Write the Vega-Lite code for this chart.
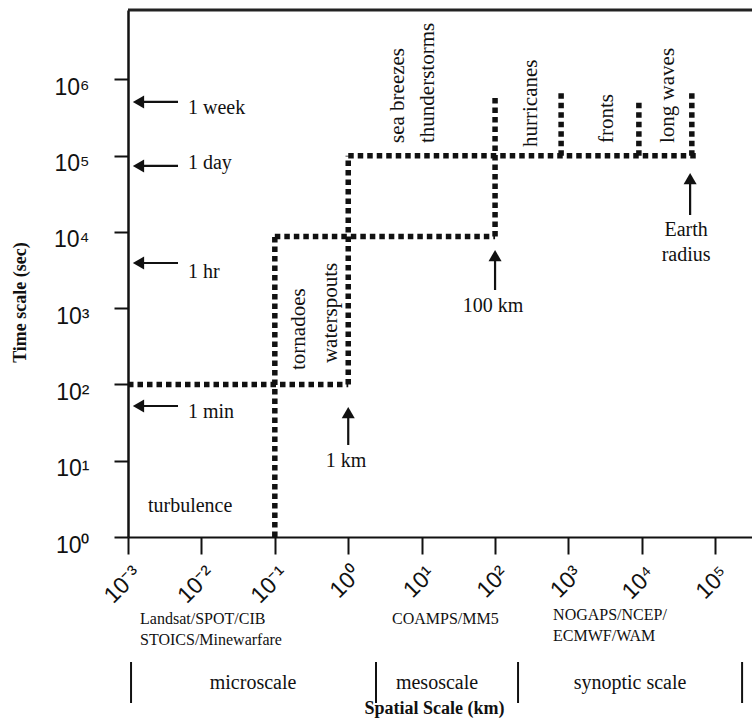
{
  "$schema": "https://vega.github.io/schema/vega-lite/v6.json",
  "width": 624,
  "height": 527,
  "autosize": {"type": "none"},
  "padding": {"left": 128, "top": 10, "right": 0, "bottom": 182},
  "background": "white",
  "config": {
    "view": {"stroke": null},
    "axis": {"grid": false, "domainColor": "#111", "tickColor": "#111", "labelColor": "#111", "titleColor": "#111"}
  },
  "datasets": {
    "segs": [
      {"x": 0.001, "x2": 1, "y": 100, "y2": 100},
      {"x": 0.1, "x2": 0.1, "y": 1, "y2": 8700},
      {"x": 0.1, "x2": 100, "y": 8700, "y2": 8700},
      {"x": 1, "x2": 1, "y": 100, "y2": 100000},
      {"x": 1, "x2": 56000, "y": 100000, "y2": 100000},
      {"x": 100, "x2": 100, "y": 8700, "y2": 600000},
      {"x": 794, "x2": 794, "y": 100000, "y2": 690000},
      {"x": 9100, "x2": 9100, "y": 100000, "y2": 550000},
      {"x": 47900, "x2": 47900, "y": 100000, "y2": 690000}
    ],
    "leftArrows": [
      {"x": 0.00139, "xl": 0.001457, "xl2": 0.0048, "y": 507000},
      {"x": 0.00139, "xl": 0.001457, "xl2": 0.0048, "y": 73400},
      {"x": 0.00139, "xl": 0.001457, "xl2": 0.0048, "y": 3920},
      {"x": 0.00139, "xl": 0.001457, "xl2": 0.0048, "y": 52.2}
    ],
    "upArrows": [
      {"x": 1, "y": 42.8, "yl": 36.4, "yl2": 16.1},
      {"x": 100, "y": 4900, "yl": 4295, "yl2": 1735},
      {"x": 45400, "y": 50100, "yl": 42700, "yl2": 16700}
    ],
    "leftText": [
      {"t": "1 week", "x": 0.00656, "y": 422700},
      {"t": "1 day", "x": 0.00656, "y": 80400},
      {"t": "1 hr", "x": 0.00656, "y": 2987},
      {"t": "1 min", "x": 0.00656, "y": 43.6},
      {"t": "turbulence", "x": 0.00187, "y": 2.55}
    ],
    "centerText": [
      {"t": "1 km", "x": 0.933, "y": 10.07},
      {"t": "100 km", "x": 94, "y": 1071},
      {"t": "Earth", "x": 40000, "y": 10620},
      {"t": "radius", "x": 40000, "y": 4990}
    ],
    "rotText": [
      {"t": "tornadoes", "x": 0.214, "y": 155},
      {"t": "waterspouts", "x": 0.583, "y": 191},
      {"t": "sea breezes", "x": 4.77, "y": 146900},
      {"t": "thunderstorms", "x": 12.2, "y": 146900},
      {"t": "hurricanes", "x": 309, "y": 130300},
      {"t": "fronts", "x": 3357, "y": 146900},
      {"t": "long waves", "x": 22750, "y": 146900}
    ],
    "modelText": [
      {"t": "Landsat/SPOT/CIB", "x": 0.00146, "y": 0.0841},
      {"t": "STOICS/Minewarfare", "x": 0.00146, "y": 0.0446},
      {"t": "COAMPS/MM5", "x": 3.95, "y": 0.0841},
      {"t": "NOGAPS/NCEP/", "x": 617, "y": 0.0948},
      {"t": "ECMWF/WAM", "x": 617, "y": 0.0503}
    ],
    "scaleText": [
      {"t": "microscale", "x": 0.0505, "y": 0.01217},
      {"t": "mesoscale", "x": 16.2, "y": 0.01217},
      {"t": "synoptic scale", "x": 6900, "y": 0.01217}
    ],
    "bars": [
      {"x": 0.0011, "y": 0.02295, "y2": 0.00665},
      {"x": 2.39, "y": 0.02295, "y2": 0.00665},
      {"x": 205.6, "y": 0.02295, "y2": 0.00665},
      {"x": 231700, "y": 0.02295, "y2": 0.00665}
    ],
    "top": [{"y": 8150000}]
  },
  "layer": [
    {
      "data": {"name": "segs"},
      "mark": {"type": "rule", "strokeWidth": 5.5, "strokeDash": [5.5, 4], "strokeCap": "butt", "color": "#111"},
      "encoding": {
        "x": {"field": "x", "type": "quantitative",
          "scale": {"type": "log", "domain": [0.001, 316228], "nice": false, "clamp": false},
          "axis": {
            "orient": "bottom",
            "values": [0.001, 0.01, 0.1, 1, 10, 100, 1000, 10000, 100000],
            "labelExpr": "'10' + ['⁻³','⁻²','⁻¹','⁰','¹','²','³','⁴','⁵'][round(log(datum.value)/LN10)+3]",
            "labelAngle": -45, "labelAlign": "right", "labelBaseline": "middle",
            "labelFont": "Liberation Sans", "labelFontSize": 23, "labelPadding": 16, "labelOffset": 9,
            "tickSize": 17, "tickWidth": 2, "domainWidth": 2, "labelFlush": false, "labelOverlap": false,
            "title": "Spatial Scale (km)", "titleFont": "Liberation Serif", "titleFontWeight": "bold", "titleFontSize": 18,
            "titleX": 306, "titleY": 171, "titleAlign": "center", "titleBaseline": "middle"
          }},
        "x2": {"field": "x2"},
        "y": {"field": "y", "type": "quantitative",
          "scale": {"type": "log", "domain": [1, 8150000], "nice": false, "clamp": false},
          "axis": {
            "orient": "left",
            "values": [1, 10, 100, 1000, 10000, 100000, 1000000],
            "labelExpr": "'10' + ['⁰','¹','²','³','⁴','⁵','⁶'][round(log(datum.value)/LN10)]",
            "labelFont": "Liberation Sans", "labelFontSize": 23, "labelPadding": 25, "labelOffset": 8,
            "tickSize": 14, "tickWidth": 2, "domainWidth": 2.5, "labelFlush": false, "labelOverlap": false,
            "title": "Time scale (sec)", "titleFont": "Liberation Serif", "titleFontWeight": "bold", "titleFontSize": 18,
            "titleAngle": 270, "titleX": -108, "titleY": 292, "titleAlign": "center", "titleBaseline": "middle"
          }},
        "y2": {"field": "y2"}
      }
    },
    {
      "data": {"name": "top"},
      "mark": {"type": "rule", "strokeWidth": 3, "color": "#222"},
      "encoding": {"y": {"field": "y", "type": "quantitative"}}
    },
    {
      "data": {"name": "leftArrows"},
      "mark": {"type": "rule", "strokeWidth": 2.2, "color": "#111"},
      "encoding": {"x": {"field": "xl", "type": "quantitative"}, "x2": {"field": "xl2"}, "y": {"field": "y", "type": "quantitative"}}
    },
    {
      "data": {"name": "leftArrows"},
      "mark": {"type": "point", "shape": "triangle-left", "size": 170, "filled": true, "color": "#111", "opacity": 1},
      "encoding": {"x": {"field": "x", "type": "quantitative"}, "y": {"field": "y", "type": "quantitative"}}
    },
    {
      "data": {"name": "upArrows"},
      "mark": {"type": "rule", "strokeWidth": 2.2, "color": "#111"},
      "encoding": {"x": {"field": "x", "type": "quantitative"}, "y": {"field": "yl", "type": "quantitative"}, "y2": {"field": "yl2"}}
    },
    {
      "data": {"name": "upArrows"},
      "mark": {"type": "point", "shape": "triangle-up", "size": 170, "filled": true, "color": "#111", "opacity": 1},
      "encoding": {"x": {"field": "x", "type": "quantitative"}, "y": {"field": "y", "type": "quantitative"}}
    },
    {
      "data": {"name": "leftText"},
      "mark": {"type": "text", "align": "left", "baseline": "middle", "font": "Liberation Serif", "fontSize": 20, "color": "#111"},
      "encoding": {"x": {"field": "x", "type": "quantitative"}, "y": {"field": "y", "type": "quantitative"}, "text": {"field": "t"}}
    },
    {
      "data": {"name": "centerText"},
      "mark": {"type": "text", "align": "center", "baseline": "middle", "font": "Liberation Serif", "fontSize": 20, "color": "#111"},
      "encoding": {"x": {"field": "x", "type": "quantitative"}, "y": {"field": "y", "type": "quantitative"}, "text": {"field": "t"}}
    },
    {
      "data": {"name": "rotText"},
      "mark": {"type": "text", "angle": 270, "align": "left", "baseline": "middle", "font": "Liberation Serif", "fontSize": 21, "color": "#111"},
      "encoding": {"x": {"field": "x", "type": "quantitative"}, "y": {"field": "y", "type": "quantitative"}, "text": {"field": "t"}}
    },
    {
      "data": {"name": "modelText"},
      "mark": {"type": "text", "align": "left", "baseline": "middle", "font": "Liberation Serif", "fontSize": 16, "color": "#111"},
      "encoding": {"x": {"field": "x", "type": "quantitative"}, "y": {"field": "y", "type": "quantitative"}, "text": {"field": "t"}}
    },
    {
      "data": {"name": "scaleText"},
      "mark": {"type": "text", "align": "center", "baseline": "middle", "font": "Liberation Serif", "fontSize": 20, "color": "#111"},
      "encoding": {"x": {"field": "x", "type": "quantitative"}, "y": {"field": "y", "type": "quantitative"}, "text": {"field": "t"}}
    },
    {
      "data": {"name": "bars"},
      "mark": {"type": "rule", "strokeWidth": 2, "color": "#111"},
      "encoding": {"x": {"field": "x", "type": "quantitative"}, "y": {"field": "y", "type": "quantitative"}, "y2": {"field": "y2"}}
    }
  ]
}
